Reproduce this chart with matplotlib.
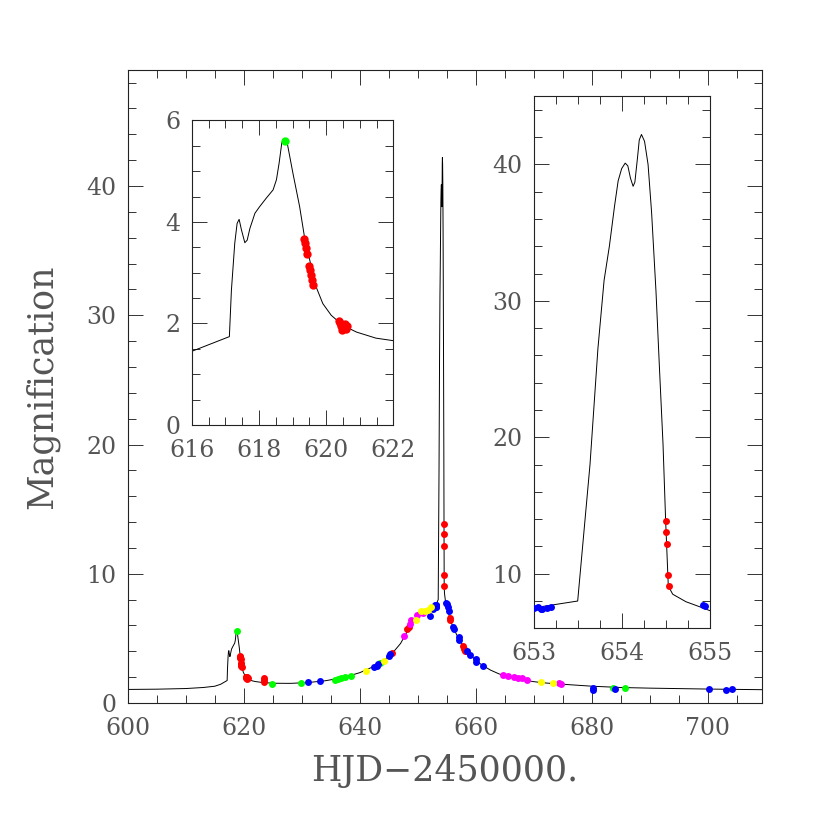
import numpy as np
import matplotlib
matplotlib.use("Agg")
import matplotlib.pyplot as plt
from matplotlib.ticker import MultipleLocator

plt.rcParams['font.family'] = ['DejaVu Serif']

# model light curve
model_t = [600, 605, 610, 613, 615, 616, 617.12, 617.18, 617.28, 617.35, 617.41, 617.48,
           617.58, 617.65, 617.73, 617.88, 618.02, 618.22, 618.42, 618.52, 618.60, 618.68,
           618.75, 618.85, 619.01, 619.21, 619.36, 619.51, 619.70,
           619.90, 620.15, 620.5, 620.9, 621.48, 622, 623, 625, 628, 631, 634, 637, 640,
           642, 644, 645.5, 647, 648.5, 649.5, 650.5, 651.5, 652.5, 653, 653.5, 653.64,
           653.73, 653.80, 653.86, 653.92, 653.96, 654.0, 654.04, 654.07, 654.10, 654.13,
           654.15, 654.18, 654.20, 654.225, 654.26, 654.30, 654.34, 654.39, 654.43,
           654.47, 654.50, 654.53, 654.58, 654.73, 654.92, 655.0, 655.5, 656, 657, 658,
           659, 660, 661, 662.5, 664, 666, 668, 670, 672, 675, 680, 685, 690, 700, 709.3]
model_a = [1.05, 1.07, 1.12, 1.2, 1.3, 1.45, 1.74, 2.65, 3.58, 3.97, 4.05, 3.84,
           3.59, 3.64, 3.87, 4.17, 4.30, 4.47, 4.63, 4.83, 5.16, 5.56,
           5.64, 5.52, 4.96, 4.30, 3.68, 3.25, 2.72,
           2.39, 2.16, 1.96, 1.83, 1.71, 1.66, 1.6, 1.53, 1.52, 1.58, 1.72, 1.95, 2.35,
           2.75, 3.25, 3.8, 4.6, 5.8, 6.5, 7.0, 7.25, 7.4, 7.5, 8.0, 18.0,
           26.5, 31.5, 34.0, 37.0, 38.8, 39.7, 40.1, 39.9, 39.0, 38.4,
           38.7, 40.5, 41.8, 42.2, 41.7, 40.0, 36.5, 30.7, 25.0,
           19.5, 13.85, 9.1, 8.5, 7.95, 7.5, 7.3, 6.6, 5.9, 5.0, 4.3,
           3.75, 3.3, 2.95, 2.55, 2.25, 2.0, 1.8, 1.65, 1.55, 1.45, 1.3, 1.2, 1.15, 1.08, 1.03]

# observations, one pair of lists per site colour
red_t = [619.33, 619.36, 619.40, 619.43, 619.48, 619.52, 619.55, 619.59, 619.62,
         620.38, 620.42, 620.45, 620.48, 620.5, 620.55, 620.6, 620.63,
         623.4, 623.45, 623.5, 645.6, 648.2, 648.4,
         654.50, 654.505, 654.51, 654.53, 654.535, 655.5, 655.6, 657.7, 657.9, 658.1]
red_a = [3.66, 3.58, 3.48, 3.37, 3.13, 3.05, 2.95, 2.85, 2.75,
         2.05, 2.0, 1.95, 1.88, 1.92, 1.98, 1.9, 1.95,
         1.9, 1.75, 1.6, 3.85, 5.7, 5.9,
         13.85, 13.06, 12.16, 9.92, 9.07, 6.6, 6.4, 4.4, 4.2, 4.0]

green_t = [618.76, 624.8, 629.8, 635.7, 636.2, 636.8, 637.5, 638.5, 643.4, 683.7, 685.7]
green_a = [5.60, 1.5, 1.55, 1.8, 1.85, 1.9, 2.0, 2.1, 3.1, 1.15, 1.15]

blue_t = [631.1, 633.2, 642.4, 642.9, 643.2, 645.1, 645.2, 652.1, 652.6, 652.9,
          653.0, 653.05, 653.08, 653.1, 653.15, 653.2, 654.92, 654.95, 655.2, 655.4,
          656.1, 656.2, 657.0, 657.1, 658.4, 659.0, 660.0, 660.1, 661.2,
          680.1, 680.1, 684.0, 700.2, 703.1, 704.1]
blue_a = [1.6, 1.7, 2.8, 2.9, 3.0, 3.6, 3.8, 6.7, 7.3, 7.6,
          7.5, 7.55, 7.4, 7.45, 7.5, 7.55, 7.7, 7.65, 7.4, 7.1,
          5.9, 5.7, 5.1, 4.9, 4.0, 3.7, 3.4, 3.2, 2.87,
          1.14, 1.0, 1.1, 1.1, 1.0, 1.1]

magenta_t = [647.6, 648.6, 648.8, 649.8, 650.8, 664.7, 665.5, 666.5, 667.2, 668.0, 668.8, 674.3, 674.7]
magenta_a = [5.2, 6.1, 6.4, 6.8, 7.0, 2.2, 2.1, 2.0, 1.95, 1.9, 1.8, 1.52, 1.5]

yellow_t = [641.1, 644.2, 649.6, 650.5, 651.2, 651.8, 652.3, 671.3, 673.2]
yellow_a = [2.5, 3.25, 6.4, 7.1, 7.1, 7.2, 7.4, 1.6, 1.55]

sites = [(red_t, red_a, '#ff0000'), (green_t, green_a, '#00ff00'),
         (blue_t, blue_a, '#0000ff'), (magenta_t, magenta_a, '#ff00ff'),
         (yellow_t, yellow_a, '#ffff00')]

txt = '#555555'


def style(ax, xmaj, xmin, ymaj, ymin, fs=17):
    ax.xaxis.set_major_locator(MultipleLocator(xmaj))
    ax.xaxis.set_minor_locator(MultipleLocator(xmin))
    ax.yaxis.set_major_locator(MultipleLocator(ymaj))
    ax.yaxis.set_minor_locator(MultipleLocator(ymin))
    ax.tick_params(which='both', direction='in', top=True, right=True,
                   colors='#333333', labelcolor=txt, labelsize=fs, width=0.7)
    ax.tick_params(which='major', length=11)
    ax.tick_params(which='minor', length=5.5)
    ax.tick_params(axis='x', which='major', pad=10)
    ax.tick_params(axis='y', which='major', pad=8)
    for s in ax.spines.values():
        s.set_linewidth(0.8)
        s.set_color('#222222')


def draw(ax, ms):
    ax.plot(model_t, model_a, color='black', lw=0.7, zorder=2)
    for t, a, c in sites:
        ax.plot(t, a, 'o', color=c, ms=ms, mec='none', zorder=3)


fig = plt.figure(figsize=(8.3, 8.3), dpi=100)

ax = fig.add_axes([0.154, 0.153, 0.764, 0.763])
draw(ax, 5)
ax.set_xlim(600, 709.3)
ax.set_ylim(0, 49)
style(ax, 20, 5, 10, 2)
ax.set_xlabel('HJD\u22122450000.', fontsize=25, color=txt, labelpad=10)
ax.set_ylabel('Magnification', fontsize=25, color=txt, labelpad=20)

ax1 = fig.add_axes([0.231, 0.488, 0.243, 0.367])
draw(ax1, 6)
ax1.set_xlim(616, 622)
ax1.set_ylim(0, 6)
style(ax1, 2, 0.5, 2, 0.5)

ax2 = fig.add_axes([0.643, 0.243, 0.212, 0.641])
draw(ax2, 5)
ax2.set_xlim(653, 655)
ax2.set_ylim(6, 45)
style(ax2, 1, 0.25, 10, 2)

fig.savefig('out.png', dpi=100)
